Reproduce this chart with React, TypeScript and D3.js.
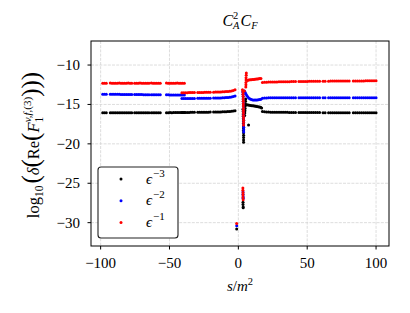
import { useEffect, useRef } from "react";
import * as d3 from "d3";

const WIDTH = 410;
const HEIGHT = 313;
const PLOT = { left: 91, right: 389, top: 41, bottom: 246 };
const FONT = "'Liberation Serif', 'DejaVu Serif', serif";

const xTicks = [-100, -50, 0, 50, 100];
const yTicks = [-10, -15, -20, -25, -30];

// s/m^2 sampling of the smooth parts (shared by all three poles)
const sLeft = [
  -98.5, -97.2, -95.9, -93.0, -91.7, -90.4, -89.1, -87.8, -86.5, -85.2, -83.9,
  -82.6, -81.3, -80.0, -78.7, -77.4, -75.3, -74.0, -72.7, -71.4, -70.1, -68.8,
  -67.5, -66.2, -64.9, -63.2, -61.9, -60.6, -59.3, -58.0, -56.7, -52.2, -50.9,
  -49.6, -48.3, -47.0, -45.7, -44.4, -43.1, -41.8, -40.5, -39.2,
];
const sMid = [
  -41.0, -39.7, -38.4, -37.1, -35.8, -34.5, -33.2, -31.9, -29.5, -28.2, -26.9,
  -25.6, -24.3, -23.0, -21.7, -20.4, -18.0, -16.7, -15.4, -14.1, -12.8, -11.5,
  -10.2, -8.9, -7.6, -6.3, -5.0, -3.7, -2.4,
];
const sRight = [
  17.5, 19.0, 20.5, 22.0, 23.5, 25.0, 26.5, 28.0, 29.5, 31.0, 32.5, 34.0, 35.5,
  37.0, 38.5, 40.0, 41.5, 44.0, 45.5, 47.0, 48.5, 50.0, 51.5, 53.0, 54.5, 56.0,
  57.5, 59.0, 61.5, 63.0, 65.5, 67.0, 68.5, 70.0, 71.5, 73.0, 74.5, 76.0, 77.5,
  79.0, 80.5, 83.5, 85.0, 86.5, 88.0, 89.5, 91.0, 92.5, 94.0, 95.5, 97.0, 98.5,
  100.0,
];

// eps^-3 (black)
const e3Left = [
  -16.06, -16.05, -16.05, -16.06, -16.05, -16.05, -16.04, -16.05, -16.06, -16.05,
  -16.05, -16.05, -16.04, -16.05, -16.05, -16.06, -16.05, -16.05, -16.04, -16.05,
  -16.05, -16.05, -16.06, -16.05, -16.04, -16.05, -16.05, -16.05, -16.04, -16.04,
  -16.05, -16.04, -16.04, -16.03, -16.04, -16.03, -16.03, -16.03, -16.02, -16.03,
  -16.02, -16.02,
];
const e3Mid = [
  -16.02, -16.02, -16.01, -16.01, -16.01, -16.0, -16.0, -16.0, -16.0, -15.99,
  -15.99, -15.99, -15.98, -15.98, -15.98, -15.97, -15.97, -15.96, -15.96, -15.95,
  -15.95, -15.94, -15.93, -15.92, -15.9, -15.88, -15.86, -15.83, -15.79,
];
const e3Right = [
  -15.9, -15.94, -15.96, -15.97, -15.98, -15.98, -15.99, -15.99, -15.99, -16.0,
  -16.0, -16.0, -16.0, -16.01, -16.01, -16.01, -16.01, -16.02, -16.02, -16.02,
  -16.02, -16.02, -16.03, -16.03, -16.03, -16.03, -16.03, -16.03, -16.04, -16.04,
  -16.04, -16.04, -16.04, -16.04, -16.04, -16.05, -16.05, -16.05, -16.05, -16.05,
  -16.05, -16.05, -16.05, -16.06, -16.06, -16.06, -16.06, -16.06, -16.06, -16.06,
  -16.06, -16.06, -16.06,
];
const e3NearX = [
  -1.2, 3.4, 3.4, 3.5, 3.5, 3.4, 3.5, 3.5, 3.6, 3.6, 3.6, 3.7, 3.7, 3.7, 3.7,
  3.8, 3.8, 3.8, 3.8, 3.8, 7.4, 4.6, 4.7, 4.8, 4.9, 5.0, 5.1, 5.2, 5.3, 6.3, 7.2,
  8.1, 9.0, 9.9, 10.8, 11.7, 12.6, 13.5, 14.4, 15.3, 16.2, 16.9,
];
const e3NearY = [
  -30.8, -27.4, -27.7, -28.0, -28.1, -15.6, -15.9, -16.2, -16.5, -16.8, -17.1,
  -17.4, -17.7, -18.0, -18.3, -18.6, -18.9, -19.2, -19.5, -19.8, -17.6, -16.4,
  -16.1, -15.8, -15.5, -15.2, -14.9, -14.6, -14.3, -15.05, -15.08, -15.1, -15.12,
  -15.15, -15.18, -15.2, -15.22, -15.25, -15.28, -15.32, -15.36, -15.45,
];

// eps^-2 (blue)
const e2Left = [
  -13.7, -13.7, -13.71, -13.71, -13.71, -13.72, -13.72, -13.72, -13.72, -13.73,
  -13.73, -13.73, -13.73, -13.74, -13.74, -13.74, -13.74, -13.75, -13.75, -13.75,
  -13.75, -13.76, -13.76, -13.76, -13.76, -13.77, -13.77, -13.77, -13.77, -13.78,
  -13.78, -13.78, -13.78, -13.79, -13.79, -13.79, -13.79, -13.8, -13.8, -13.8,
  -13.8, -13.8,
];
const e2Mid = [
  -14.25, -14.25, -14.24, -14.24, -14.24, -14.23, -14.23, -14.23, -14.22, -14.22,
  -14.22, -14.21, -14.21, -14.21, -14.2, -14.2, -14.19, -14.19, -14.18, -14.18,
  -14.17, -14.16, -14.15, -14.13, -14.11, -14.08, -14.04, -13.99, -13.92,
];
const e2Right = [
  -14.22, -14.19, -14.17, -14.16, -14.16, -14.15, -14.15, -14.15, -14.15, -14.15,
  -14.15, -14.15, -14.15, -14.15, -14.15, -14.15, -14.15, -14.15, -14.15, -14.15,
  -14.15, -14.15, -14.15, -14.15, -14.15, -14.15, -14.15, -14.15, -14.15, -14.15,
  -14.15, -14.15, -14.15, -14.15, -14.15, -14.15, -14.15, -14.15, -14.15, -14.15,
  -14.15, -14.15, -14.15, -14.15, -14.15, -14.15, -14.15, -14.15, -14.15, -14.15,
  -14.15, -14.15, -14.15,
];
const e2NearX = [
  -1.2, 3.4, 3.4, 3.5, 3.5, 3.2, 3.4, 3.5, 3.5, 3.6, 3.6, 3.6, 3.7, 3.7, 3.7,
  3.7, 3.8, 3.8, 3.8, 3.8, 3.9, 3.9, 3.9, 4.4, 5.0, 5.6, 6.2, 6.9, 7.7, 8.6, 9.5,
  10.5, 11.5, 12.5, 13.5, 14.5, 15.5, 16.4,
];
const e2NearY = [
  -30.4, -26.1, -26.4, -26.7, -26.9, -13.4, -13.7, -14.0, -14.3, -14.6, -14.9,
  -15.2, -15.5, -15.8, -16.1, -16.4, -16.7, -17.0, -17.3, -17.6, -17.9, -18.2,
  -18.5, -13.3, -13.5, -13.7, -13.9, -14.05, -14.2, -14.3, -14.38, -14.42, -14.45,
  -14.45, -14.43, -14.4, -14.38, -14.35,
];

// eps^-1 (red)
const e1Left = [
  -12.31, -12.3, -12.3, -12.29, -12.3, -12.31, -12.3, -12.3, -12.29, -12.3,
  -12.3, -12.31, -12.3, -12.29, -12.3, -12.3, -12.31, -12.3, -12.3, -12.29,
  -12.3, -12.3, -12.31, -12.3, -12.3, -12.29, -12.3, -12.3, -12.31, -12.3,
  -12.3, -12.29, -12.3, -12.3, -12.31, -12.3, -12.3, -12.29, -12.3, -12.3,
  -12.31, -12.3,
];
const e1Mid = [
  -13.52, -13.52, -13.51, -13.51, -13.5, -13.5, -13.49, -13.49, -13.48, -13.48,
  -13.47, -13.47, -13.46, -13.46, -13.45, -13.45, -13.44, -13.43, -13.43, -13.42,
  -13.41, -13.4, -13.39, -13.37, -13.35, -13.32, -13.28, -13.22, -13.12,
];
const e1Right = [
  -12.2, -12.18, -12.17, -12.16, -12.15, -12.15, -12.14, -12.14, -12.13, -12.13,
  -12.12, -12.12, -12.11, -12.11, -12.1, -12.1, -12.1, -12.09, -12.09, -12.08,
  -12.08, -12.08, -12.07, -12.07, -12.07, -12.06, -12.06, -12.06, -12.05, -12.05,
  -12.05, -12.04, -12.04, -12.04, -12.04, -12.03, -12.03, -12.03, -12.03, -12.02,
  -12.02, -12.02, -12.02, -12.01, -12.01, -12.01, -12.01, -12.0, -12.0, -12.0,
  -12.0, -12.0, -11.99,
];
const e1NearX = [
  -1.2, 3.3, 3.3, 3.4, 3.4, 3.4, 3.5, 3.0, 3.3, 3.4, 3.5, 3.5, 3.6, 3.6, 3.6,
  3.7, 3.7, 3.7, 3.7, 3.8, 3.8, 3.8, 3.8, 4.3, 5.4, 5.5, 5.5, 5.6, 5.6, 5.7, 5.8,
  6.6, 7.5, 8.4, 9.3, 10.2, 11.1, 12.0, 12.9, 13.8, 14.7, 15.6, 16.4,
];
const e1NearY = [
  -30.1, -25.6, -25.9, -26.2, -26.5, -26.8, -27.1, -13.15, -13.4, -13.7, -14.0,
  -14.3, -14.6, -14.9, -15.2, -15.5, -15.8, -16.1, -16.4, -16.7, -17.0, -17.3,
  -17.6, -13.3, -12.8, -12.5, -12.2, -11.9, -11.6, -11.3, -11.0, -11.95, -11.9,
  -11.88, -11.86, -11.84, -11.82, -11.8, -11.78, -11.76, -11.74, -11.72, -11.7,
];

const series = [
  { label: "-3", color: "#000000", parts: [[sLeft, e3Left], [sMid, e3Mid], [sRight, e3Right], [e3NearX, e3NearY]] },
  { label: "-2", color: "#0000ff", parts: [[sLeft, e2Left], [sMid, e2Mid], [sRight, e2Right], [e2NearX, e2NearY]] },
  { label: "-1", color: "#ff0000", parts: [[sLeft, e1Left], [sMid, e1Mid], [sRight, e1Right], [e1NearX, e1NearY]] },
];

function App() {
  const ref = useRef<SVGGElement | null>(null);

  useEffect(() => {
    if (!ref.current) return;
    const g = d3.select(ref.current);
    g.selectAll("*").remove();

    const x = d3.scaleLinear().domain([-107, 109.4]).range([PLOT.left, PLOT.right]);
    const y = d3.scaleLinear().domain([-32.96, -6.95]).range([PLOT.bottom, PLOT.top]);

    // grid
    g.append("g")
      .selectAll("line")
      .data(xTicks)
      .join("line")
      .attr("x1", (d) => x(d))
      .attr("x2", (d) => x(d))
      .attr("y1", PLOT.top)
      .attr("y2", PLOT.bottom)
      .attr("stroke", "#d4d4d4")
      .attr("stroke-width", 0.8)
      .attr("stroke-dasharray", "3,1.2");
    g.append("g")
      .selectAll("line")
      .data(yTicks)
      .join("line")
      .attr("x1", PLOT.left)
      .attr("x2", PLOT.right)
      .attr("y1", (d) => y(d))
      .attr("y2", (d) => y(d))
      .attr("stroke", "#d4d4d4")
      .attr("stroke-width", 0.8)
      .attr("stroke-dasharray", "3,1.2");

    // points
    series.forEach((s) => {
      const pts: [number, number][] = [];
      s.parts.forEach(([xs, ys]) => {
        xs.forEach((v, i) => {
          if (ys[i] !== undefined) pts.push([v, ys[i]]);
        });
      });
      g.append("g")
        .selectAll("circle")
        .data(pts)
        .join("circle")
        .attr("cx", (d) => x(d[0]))
        .attr("cy", (d) => y(d[1]))
        .attr("r", 1.5)
        .attr("fill", s.color);
    });

    // frame
    g.append("rect")
      .attr("x", PLOT.left)
      .attr("y", PLOT.top)
      .attr("width", PLOT.right - PLOT.left)
      .attr("height", PLOT.bottom - PLOT.top)
      .attr("fill", "none")
      .attr("stroke", "#000")
      .attr("stroke-width", 1);

    // ticks + labels
    const fmt = (d: number) => (d < 0 ? `\u2212${Math.abs(d)}` : `${d}`);
    const xt = g.append("g").selectAll("g").data(xTicks).join("g");
    xt.append("line")
      .attr("x1", (d) => x(d))
      .attr("x2", (d) => x(d))
      .attr("y1", PLOT.bottom)
      .attr("y2", PLOT.bottom + 3.5)
      .attr("stroke", "#000");
    xt.append("text")
      .attr("x", (d) => x(d))
      .attr("y", 268)
      .attr("text-anchor", "middle")
      .style("font-family", FONT)
      .style("font-size", "15px")
      .text(fmt);
    const yt = g.append("g").selectAll("g").data(yTicks).join("g");
    yt.append("line")
      .attr("x1", PLOT.left - 3.5)
      .attr("x2", PLOT.left)
      .attr("y1", (d) => y(d))
      .attr("y2", (d) => y(d))
      .attr("stroke", "#000");
    yt.append("text")
      .attr("x", 80)
      .attr("y", (d) => y(d) + 5)
      .attr("text-anchor", "end")
      .style("font-family", FONT)
      .style("font-size", "15px")
      .text(fmt);

    // legend
    const lg = g.append("g");
    lg.append("rect")
      .attr("x", 98)
      .attr("y", 167)
      .attr("width", 80)
      .attr("height", 71)
      .attr("rx", 3)
      .attr("fill", "#fff")
      .attr("stroke", "#222")
      .attr("stroke-width", 1.1);
    series.forEach((s, i) => {
      const cy = 179 + i * 21.8;
      lg.append("circle").attr("cx", 121).attr("cy", cy).attr("r", 1.5).attr("fill", s.color);
      const t = lg.append("text")
        .attr("x", 146)
        .attr("y", cy + 4.5)
        .style("font-family", FONT)
        .style("font-size", "15px");
      t.append("tspan").attr("font-style", "italic").text("\u03f5");
      t.append("tspan")
        .attr("dy", -7)
        .attr("dx", 1)
        .style("font-size", "11px")
        .text(s.label.replace("-", "\u2212"));
    });
  }, []);

  return (
    <svg
      width={WIDTH}
      height={HEIGHT}
      style={{ position: "absolute", left: 0, top: 0, background: "#fff" }}
      fontFamily={FONT}
    >
      <g ref={ref} />
      <text x={240} y={26} textAnchor="middle" fontSize={16}>
        <tspan fontStyle="italic">C</tspan>
        <tspan fontSize={10.5} dy={-7}>2</tspan>
        <tspan fontSize={10.5} fontStyle="italic" dx={-5.3} dy={10}>A</tspan>
        <tspan fontStyle="italic" dx={1} dy={-3}>C</tspan>
        <tspan fontSize={10.5} fontStyle="italic" dy={3}>F</tspan>
      </text>
      <text x={240} y={291} textAnchor="middle" fontSize={15}>
        <tspan fontStyle="italic">s</tspan>
        <tspan>/</tspan>
        <tspan fontStyle="italic">m</tspan>
        <tspan fontSize={10.5} dy={-6}>2</tspan>
      </text>
      <text transform="translate(39,145) rotate(-90)" textAnchor="middle" fontSize={16.5}>
        <tspan>log</tspan>
        <tspan fontSize={11.5} dy={4}>10</tspan>
        <tspan fontSize={25} dx={2} dy={-4}>(</tspan>
        <tspan fontStyle="italic">δ</tspan>
        <tspan fontSize={25}>(</tspan>
        <tspan>Re</tspan>
        <tspan fontSize={25}>(</tspan>
        <tspan fontStyle="italic">F</tspan>
        <tspan fontSize={11.5} dy={4}>1</tspan>
        <tspan fontSize={11} fontStyle="italic" dx={-5.5} dy={-12}>v,f,</tspan>
        <tspan fontSize={11}>(3)</tspan>
        <tspan fontSize={25} dy={8}>)))</tspan>
      </text>
    </svg>
  );
}

export default App;
